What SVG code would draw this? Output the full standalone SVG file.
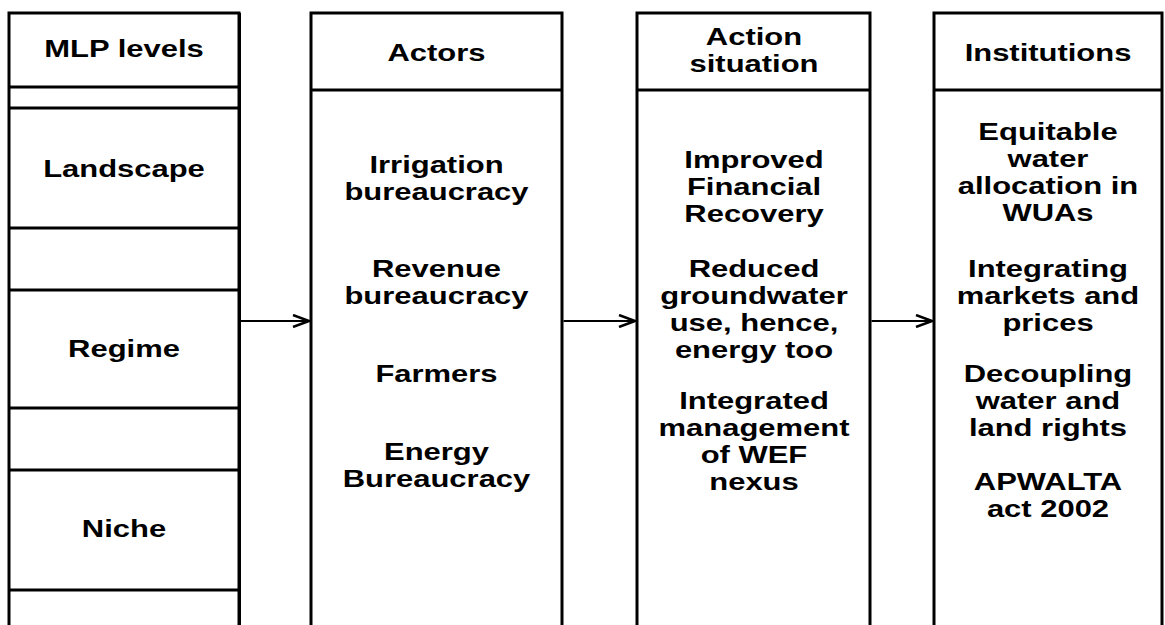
<svg xmlns="http://www.w3.org/2000/svg" width="1165" height="625" viewBox="0 0 1165 625">
  <defs>
    <style>
      .box { fill: #ffffff; stroke: #000000; stroke-width: 3; }
      .sep { fill: none; stroke: #000000; stroke-width: 3; }
      .t { font-family: "Liberation Sans", Arial, sans-serif; font-weight: bold; font-size: 24px; fill: #000000; text-anchor: middle; }
      .conn { fill: none; stroke: #000000; stroke-width: 2.2; }
    </style>
    <marker id="arrow" viewBox="0 0 18 14" refX="17" refY="7" markerWidth="18" markerHeight="14" markerUnits="userSpaceOnUse" orient="auto">
      <path d="M1,1 L17,7 L1,13" fill="none" stroke="#000000" stroke-width="2.5" stroke-linejoin="miter"/>
    </marker>
  </defs>
  <rect x="0" y="0" width="1165" height="625" fill="#ffffff"/>

  <g id="col-mlp">
    <rect class="box" x="9" y="13" width="230" height="640"/>
    <line class="sep" x1="9" y1="87" x2="239" y2="87"/>
    <line class="sep" x1="9" y1="108" x2="239" y2="108"/>
    <line class="sep" x1="9" y1="228" x2="239" y2="228"/>
    <line class="sep" x1="9" y1="290" x2="239" y2="290"/>
    <line class="sep" x1="9" y1="408" x2="239" y2="408"/>
    <line class="sep" x1="9" y1="470" x2="239" y2="470"/>
    <line class="sep" x1="9" y1="590" x2="239" y2="590"/>
    <line class="sep" x1="239.5" y1="13" x2="239.5" y2="625" stroke-width="1"/>
    <text class="t" transform="translate(124 0) scale(1.29 1)" x="0" y="57">MLP levels</text>
    <g id="mlp-landscape">
      <text class="t" transform="translate(124 0) scale(1.29 1)" x="0" y="177">Landscape</text>
    </g>
    <g id="mlp-regime">
      <text class="t" transform="translate(124 0) scale(1.29 1)" x="0" y="357">Regime</text>
    </g>
    <g id="mlp-niche">
      <text class="t" transform="translate(124 0) scale(1.29 1)" x="0" y="537">Niche</text>
    </g>
  </g>

  <g id="col-actors">
    <rect class="box" x="311" y="13" width="251" height="640"/>
    <line class="sep" x1="311" y1="90" x2="562" y2="90"/>
    <text class="t" transform="translate(436.5 0) scale(1.29 1)" x="0" y="61">Actors</text>
    <text class="t" transform="translate(436.5 0) scale(1.29 1)"><tspan x="0" y="173">Irrigation</tspan><tspan x="0" y="200">bureaucracy</tspan><tspan x="0" y="277">Revenue</tspan><tspan x="0" y="304">bureaucracy</tspan><tspan x="0" y="382">Farmers</tspan><tspan x="0" y="460">Energy</tspan><tspan x="0" y="487">Bureaucracy</tspan></text>
  </g>

  <g id="col-action">
    <rect class="box" x="637" y="13" width="233" height="640"/>
    <line class="sep" x1="637" y1="90" x2="870" y2="90"/>
    <text class="t" transform="translate(754 0) scale(1.29 1)"><tspan x="0" y="45">Action</tspan><tspan x="0" y="72">situation</tspan></text>
    <text class="t" transform="translate(754 0) scale(1.29 1)"><tspan x="0" y="168">Improved</tspan><tspan x="0" y="195">Financial</tspan><tspan x="0" y="222">Recovery</tspan><tspan x="0" y="277">Reduced</tspan><tspan x="0" y="304">groundwater</tspan><tspan x="0" y="331">use, hence,</tspan><tspan x="0" y="358">energy too</tspan><tspan x="0" y="409">Integrated</tspan><tspan x="0" y="436">management</tspan><tspan x="0" y="463">of WEF</tspan><tspan x="0" y="490">nexus</tspan></text>
  </g>

  <g id="col-institutions">
    <rect class="box" x="934" y="13" width="228" height="640"/>
    <line class="sep" x1="934" y1="90" x2="1162" y2="90"/>
    <text class="t" transform="translate(1048 0) scale(1.29 1)" x="0" y="61">Institutions</text>
    <text class="t" transform="translate(1048 0) scale(1.29 1)"><tspan x="0" y="140">Equitable</tspan><tspan x="0" y="167">water</tspan><tspan x="0" y="194">allocation in</tspan><tspan x="0" y="221">WUAs</tspan><tspan x="0" y="277">Integrating</tspan><tspan x="0" y="304">markets and</tspan><tspan x="0" y="331">prices</tspan><tspan x="0" y="382">Decoupling</tspan><tspan x="0" y="409">water and</tspan><tspan x="0" y="436">land rights</tspan><tspan x="0" y="490">APWALTA</tspan><tspan x="0" y="517">act 2002</tspan></text>
  </g>

  <g id="connectors">
    <line class="conn" x1="240.5" y1="321" x2="309" y2="321" marker-end="url(#arrow)"/>
    <line class="conn" x1="563.5" y1="321" x2="635" y2="321" marker-end="url(#arrow)"/>
    <line class="conn" x1="871.5" y1="321" x2="932" y2="321" marker-end="url(#arrow)"/>
  </g>
</svg>
